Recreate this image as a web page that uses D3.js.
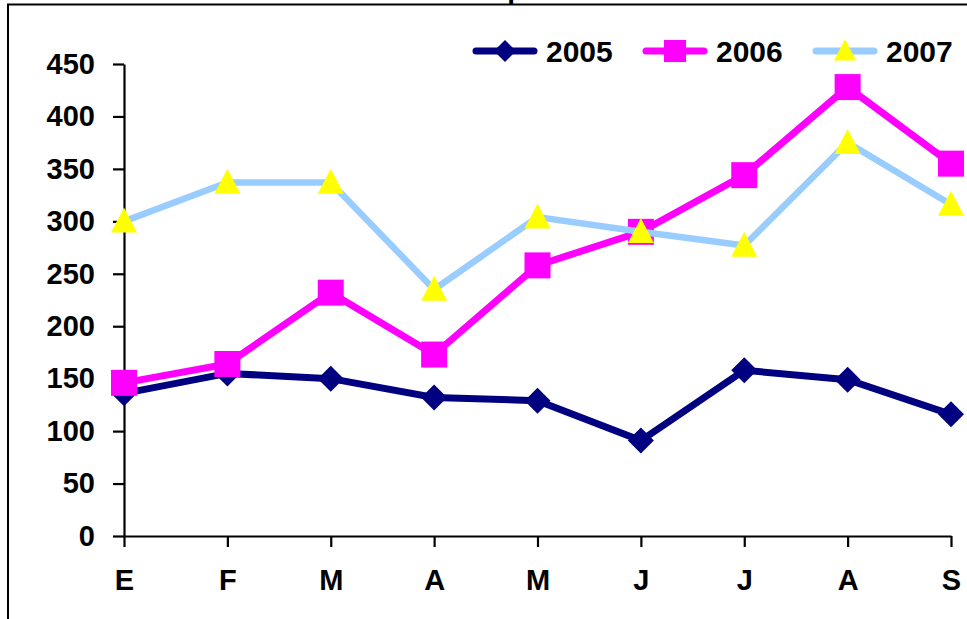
<!DOCTYPE html>
<html><head><meta charset="utf-8">
<script src="https://cdn.jsdelivr.net/npm/d3@7"></script>
<style>body{margin:0;background:#fff}svg{display:block}</style>
</head><body>
<svg id="c" width="967" height="619"></svg>
<script>
const categories = ["E","F","M","A","M","J","J","A","S"];
const s2005 = [136,155,150,132,129,91,158,149,116];
const s2006 = [146,164,232,173,258,290,344,428,355];
const s2007 = [300,337,337,235,304,290,277,375,316];
const yTicks = [0,50,100,150,200,250,300,350,400,450];
const seriesNames = ["2005","2006","2007"];

const svg = d3.select("#c");
const font = "'Liberation Sans', Arial, sans-serif";

// frame
svg.append("rect").attr("x",8).attr("y",4.5).attr("width",980).attr("height",640)
  .attr("fill","none").attr("stroke","#000").attr("stroke-width",2);

// title (mostly cut off above the picture)
svg.append("text").attr("x",445).attr("y",-2).attr("font-family",font)
  .attr("font-weight","bold").attr("font-size",28).text("Comparativo");

const x = d3.scalePoint().domain(d3.range(categories.length)).range([124,951]).padding(0);
const y = d3.scaleLinear().domain([0,450]).range([536,64]);

// y axis
const ya = svg.append("g").attr("transform","translate(124,0)")
  .call(d3.axisLeft(y).tickValues(yTicks).tickSize(11).tickPadding(18).tickSizeOuter(0));
ya.select(".domain").attr("stroke-width",2.2);
ya.selectAll(".tick line").attr("stroke-width",2.2);
ya.selectAll("text").attr("font-family",font).attr("font-weight","bold").attr("font-size",29).attr("fill","#000");

// x axis
const xa = svg.append("g").attr("transform","translate(0,536)")
  .call(d3.axisBottom(x).tickFormat(i=>categories[i]).tickSize(11).tickPadding(22).tickSizeOuter(0));
xa.select(".domain").attr("stroke-width",2.2);
xa.selectAll(".tick line").attr("stroke-width",2.2);
xa.selectAll("text").attr("font-family",font).attr("font-weight","bold").attr("font-size",29).attr("fill","#000");

const line = d3.line().x((d,i)=>x(i)).y(d=>y(d));

const series = [
  {name:seriesNames[0], data:s2005, color:"#000080", width:7, fill:"#000080"},
  {name:seriesNames[1], data:s2006, color:"#FF00FF", width:7, fill:"#FF00FF"},
  {name:seriesNames[2], data:s2007, color:"#99CCFF", width:6.5, fill:"#FFFF00"}
];

function diamondPath(r){ return `M0,${-r}L${r},0L0,${r}L${-r},0Z`; }
function squarePath(r){ return `M${-r},${-r}H${r}V${r}H${-r}Z`; }
function triPath(w,h){ return `M0,${-h*0.55}L${w/2},${h*0.45}L${-w/2},${h*0.45}Z`; }
function symPath(i,k){
  if (i===0) return diamondPath(13*k);
  if (i===1) return squarePath(13*k);
  return triPath(26*k,25*k);
}

series.forEach((s,si)=>{
  const g = svg.append("g");
  g.append("path").attr("d",line(s.data)).attr("fill","none")
    .attr("stroke",s.color).attr("stroke-width",s.width).attr("stroke-linejoin","miter");
  g.selectAll("path.m").data(s.data).join("path").attr("class","m")
    .attr("transform",(d,i)=>`translate(${x(i)},${y(d)})`)
    .attr("d",symPath(si,1)).attr("fill",s.fill);
});

// legend
const lg = svg.append("g");
const legX = [472,642,812];
series.forEach((s,i)=>{
  const lx = legX[i], ly = 51;
  lg.append("line").attr("x1",lx+4).attr("x2",lx+62).attr("y1",ly).attr("y2",ly)
    .attr("stroke",s.color).attr("stroke-width",7).attr("stroke-linecap","round");
  lg.append("path").attr("transform",`translate(${lx+33},${ly})`).attr("d",symPath(i,0.85)).attr("fill",s.fill);
  lg.append("text").attr("x",lx+74).attr("y",ly+11).attr("font-family",font)
    .attr("font-weight","bold").attr("font-size",30).text(s.name);
});
</script>
</body></html>
